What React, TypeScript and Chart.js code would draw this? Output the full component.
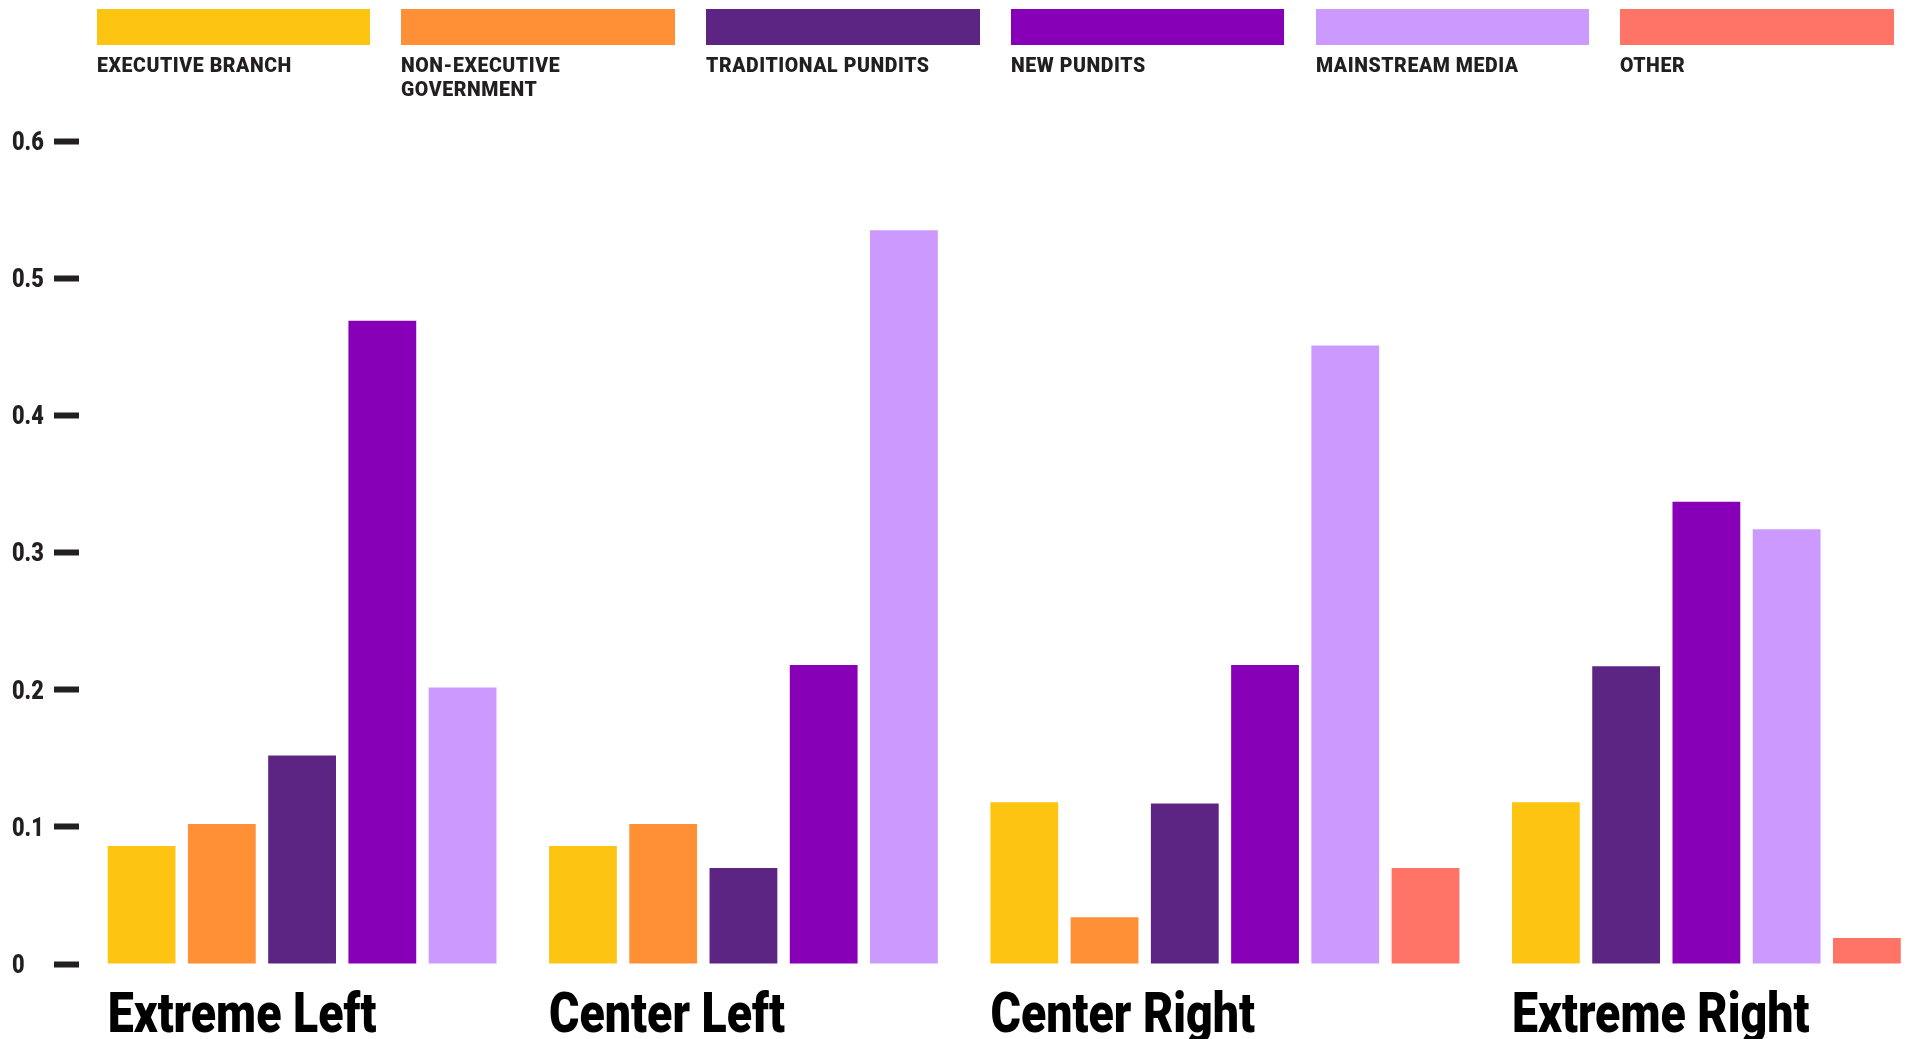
import React, { useEffect, useRef } from 'react';
import { Chart, registerables } from 'chart.js';

Chart.register(...registerables);

// ---------- data ----------
const CATEGORIES = ['Extreme Left', 'Center Left', 'Center Right', 'Extreme Right'];
const SERIES_NAMES = [
  'EXECUTIVE BRANCH',
  'NON-EXECUTIVE GOVERNMENT',
  'TRADITIONAL PUNDITS',
  'NEW PUNDITS',
  'MAINSTREAM MEDIA',
  'OTHER',
];
const EXECUTIVE_BRANCH = [0.086, 0.086, 0.118, 0.118];
const NON_EXECUTIVE_GOVERNMENT = [0.102, 0.102, 0.034, null];
const TRADITIONAL_PUNDITS = [0.152, 0.07, 0.117, 0.217];
const NEW_PUNDITS = [0.469, 0.218, 0.218, 0.337];
const MAINSTREAM_MEDIA = [0.2015, 0.535, 0.451, 0.317];
const OTHER = [null, null, 0.07, 0.019];
const Y_TICKS = [0, 0.1, 0.2, 0.3, 0.4, 0.5, 0.6];

// ---------- styles ----------
const COLORS = ['#FDC512', '#FF9035', '#5C2483', '#8700B8', '#CC99FF', '#FF7466'];
const FONT = 'Roboto, "DejaVu Sans Condensed", sans-serif';
const TEXT_DARK = '#231F20';
const GROUP_GAP = 0.5; // extra empty slot fraction between groups
const BAR_PCT = 0.845;
const W = 1915;
const H = 1039;

const X_LABEL_SIZE = 55;
const X_LABEL_SCALE = 0.845;
const X_LABEL_BASELINE = 67.5; // px below chart area bottom
const Y_LABEL_SIZE = 25;
const Y_LABEL_SCALE = 0.87;
const LEGEND_SIZE = 21;
const LEGEND_SCALE = 0.93;

const SERIES = [
  EXECUTIVE_BRANCH,
  NON_EXECUTIVE_GOVERNMENT,
  TRADITIONAL_PUNDITS,
  NEW_PUNDITS,
  MAINSTREAM_MEDIA,
  OTHER,
];

function buildLayout() {
  const groupStarts: number[] = [];
  const slots: (number | null)[][] = SERIES.map(() => []);
  let cursor = 0;
  CATEGORIES.forEach((_, c) => {
    groupStarts.push(cursor);
    let k = 0;
    SERIES.forEach((s, i) => {
      if (s[c] != null) {
        slots[i][c] = cursor + k;
        k++;
      } else {
        slots[i][c] = null;
      }
    });
    cursor += k + GROUP_GAP;
  });
  const lastSlot = cursor - GROUP_GAP - 1;
  return { groupStarts, slots, lastSlot };
}

function drawCondensed(
  ctx: CanvasRenderingContext2D,
  text: string,
  x: number,
  y: number,
  sx: number
) {
  ctx.save();
  ctx.translate(x, y);
  ctx.scale(sx, 1);
  ctx.fillText(text, 0, 0);
  ctx.restore();
}

const condensedLabels = {
  id: 'condensedLabels',
  afterDraw(chart: any) {
    const ctx: CanvasRenderingContext2D = chart.ctx;
    const xs = chart.scales.x;
    const ys = chart.scales.y;
    ctx.save();
    ctx.textAlign = 'left';
    ctx.textBaseline = 'alphabetic';
    // category labels, left aligned to each group's first bar
    ctx.fillStyle = '#000000';
    ctx.font = `900 ${X_LABEL_SIZE}px ${FONT}`;
    xs.ticks.forEach((t: any, i: number) => {
      const label = t.label != null && t.label !== '' ? String(t.label) : CATEGORIES[i];
      drawCondensed(ctx, label, xs.getPixelForValue(t.value), chart.chartArea.bottom + X_LABEL_BASELINE, X_LABEL_SCALE);
    });
    // value labels
    ctx.fillStyle = TEXT_DARK;
    ctx.font = `900 ${Y_LABEL_SIZE}px ${FONT}`;
    ys.ticks.forEach((t: any) => {
      const label = String(Math.round(t.value * 10) / 10);
      drawCondensed(ctx, label, ys.left, ys.getPixelForValue(t.value) + Y_LABEL_SIZE * 0.711 / 2, Y_LABEL_SCALE);
    });
    ctx.restore();
  },
};

function ChartCanvas() {
  const ref = useRef<HTMLCanvasElement | null>(null);
  useEffect(() => {
    if (!ref.current) return;
    const { groupStarts, slots, lastSlot } = buildLayout();
    const datasets = SERIES.map((s, i) => ({
      label: SERIES_NAMES[i],
      data: s
        .map((v, c) => (v == null ? null : { x: slots[i][c] as number, y: v }))
        .filter((p) => p !== null),
      backgroundColor: COLORS[i],
      borderWidth: 0,
      grouped: false,
      categoryPercentage: 1,
      barPercentage: BAR_PCT,
    }));
    const chart = new Chart(ref.current, {
      type: 'bar',
      data: { datasets: datasets as any },
      plugins: [condensedLabels],
      options: {
        animation: false,
        responsive: false,
        maintainAspectRatio: false,
        layout: { padding: { top: 141, left: 12, right: 8, bottom: 75 } },
        plugins: { legend: { display: false }, tooltip: { enabled: false } },
        scales: {
          x: {
            type: 'linear',
            offset: false,
            bounds: 'data',
            min: -0.78,
            max: lastSlot + 0.5,
            grid: { display: false, drawTicks: false, tickLength: 0 },
            border: { display: false },
            afterBuildTicks: (scale: any) => {
              scale.ticks = groupStarts.map((v) => ({ value: v - BAR_PCT / 2 }));
            },
            ticks: {
              display: false,
              autoSkip: false,
              callback: (_v: any, idx: number) => CATEGORIES[idx],
            },
          },
          y: {
            min: 0,
            max: 0.6,
            afterBuildTicks: (scale: any) => {
              scale.ticks = Y_TICKS.map((v) => ({ value: v }));
            },
            afterFit: (scale: any) => {
              scale.width = 67;
            },
            grid: {
              drawOnChartArea: false,
              drawTicks: true,
              tickLength: 25,
              tickWidth: 6,
              tickColor: TEXT_DARK,
            },
            border: { display: false },
            ticks: { display: false },
          },
        },
      } as any,
    });
    return () => chart.destroy();
  }, []);
  return (
    <canvas
      ref={ref}
      width={W}
      height={H}
      style={{ position: 'absolute', left: 0, top: 0, width: W, height: H }}
    />
  );
}

function Legend() {
  const itemW = 273.6;
  return (
    <div
      style={{
        position: 'absolute',
        left: 96.5,
        top: 9,
        display: 'flex',
        gap: 31.2,
      }}
    >
      {SERIES_NAMES.map((name, i) => (
        <div key={name} style={{ width: itemW }}>
          <div style={{ height: 36, background: COLORS[i] }} />
          <div
            style={{
              marginTop: 7.8,
              width: itemW / LEGEND_SCALE,
              transform: `scaleX(${LEGEND_SCALE})`,
              transformOrigin: 'left top',
              fontFamily: FONT,
              fontWeight: 900,
              fontSize: LEGEND_SIZE,
              lineHeight: '24px',
              letterSpacing: '0.6px',
              color: TEXT_DARK,
            }}
          >
            {name}
          </div>
        </div>
      ))}
    </div>
  );
}

export default function App() {
  return (
    <div
      style={{
        position: 'fixed',
        left: 0,
        top: 0,
        width: W,
        height: H,
        overflow: 'hidden',
        background: '#ffffff',
      }}
    >
      <ChartCanvas />
      <Legend />
    </div>
  );
}
